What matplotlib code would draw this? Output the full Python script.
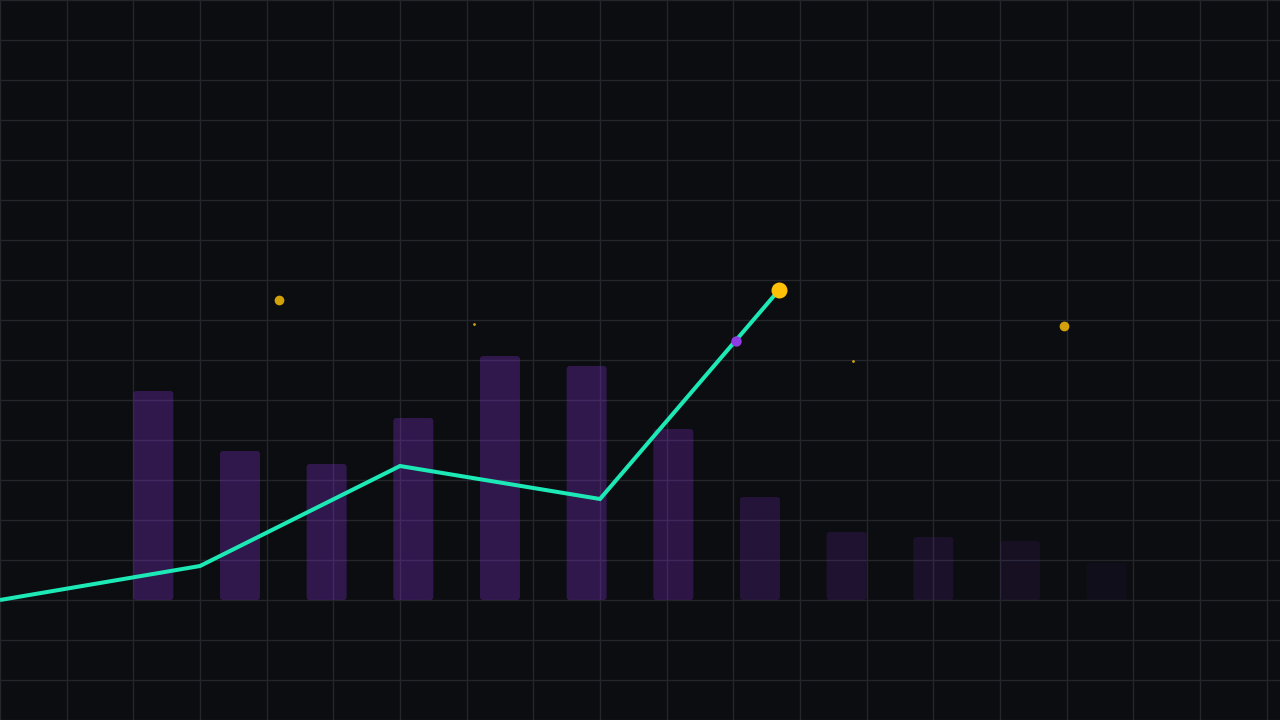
import numpy as np
import matplotlib
matplotlib.use("Agg")
import matplotlib.pyplot as plt
from matplotlib.patches import FancyBboxPatch

# ---- data (values measured relative to the bar baseline) ----
bar_values = [209, 149, 136, 182, 244, 234, 171, 103, 68, 63, 59, 37]
bar_alphas = [0.28, 0.28, 0.28, 0.28, 0.28, 0.28, 0.25, 0.19, 0.15, 0.12, 0.09, 0.05]

line_x = [0, 200, 400, 600, 779]
line_y = [0, 34, 134, 101, 310]

mid_x = [736]
mid_y = [259]

peak_x = [779]
peak_y = [310]

spark_x = [279, 474, 853, 1064]
spark_y = [300, 276, 239, 274]
spark_sizes = [7.0, 2.0, 2.0, 7.0]

# ---- style ----
BG = "#0b0d10"
GRID = "#23262b"
BAR = "#9333ea"
LINE = "#1de9b6"
YELLOW = "#ffc107"
PURPLE = "#8e3be6"

fig = plt.figure(figsize=(12.8, 7.2), dpi=100, facecolor=BG)
ax = fig.add_axes([0, 0, 1, 1])
ax.set_facecolor(BG)
ax.set_xlim(0, 1280)
ax.set_ylim(-120, 600)
for s in ax.spines.values():
    s.set_visible(False)
ax.set_xticks([])
ax.set_yticks([])

# grid
for gx in np.arange(0, 1281, 1280 / 19.2):
    ax.axvline(gx, color=GRID, lw=1.0, zorder=1)
for gy in np.arange(-120, 601, 40):
    ax.axhline(gy, color=GRID, lw=1.0, zorder=1)

# bars
bar_w = 40
bar_step = 86.667
bar_left0 = 133.3
for i, (v, a) in enumerate(zip(bar_values, bar_alphas)):
    left = bar_left0 + i * bar_step
    p = FancyBboxPatch((left, 0), bar_w, v,
                       boxstyle="round,pad=0,rounding_size=3",
                       facecolor=BAR, edgecolor="none", alpha=a, zorder=2)
    ax.add_patch(p)

# line
ax.plot(line_x, line_y, color=LINE, lw=2.9, solid_joinstyle="miter",
        solid_capstyle="butt", zorder=4)

# markers
ax.plot(mid_x, mid_y, "o", color=PURPLE, markersize=7.5, markeredgewidth=0, zorder=5)
ax.plot(peak_x, peak_y, "o", color=YELLOW, markersize=11.5, markeredgewidth=0, zorder=5)

# sparkles
for x, y, s in zip(spark_x, spark_y, spark_sizes):
    ax.plot([x], [y], "o", color=YELLOW, alpha=0.82, markersize=s,
            markeredgewidth=0, zorder=3)

fig.savefig("out.png", dpi=100, facecolor=BG)
